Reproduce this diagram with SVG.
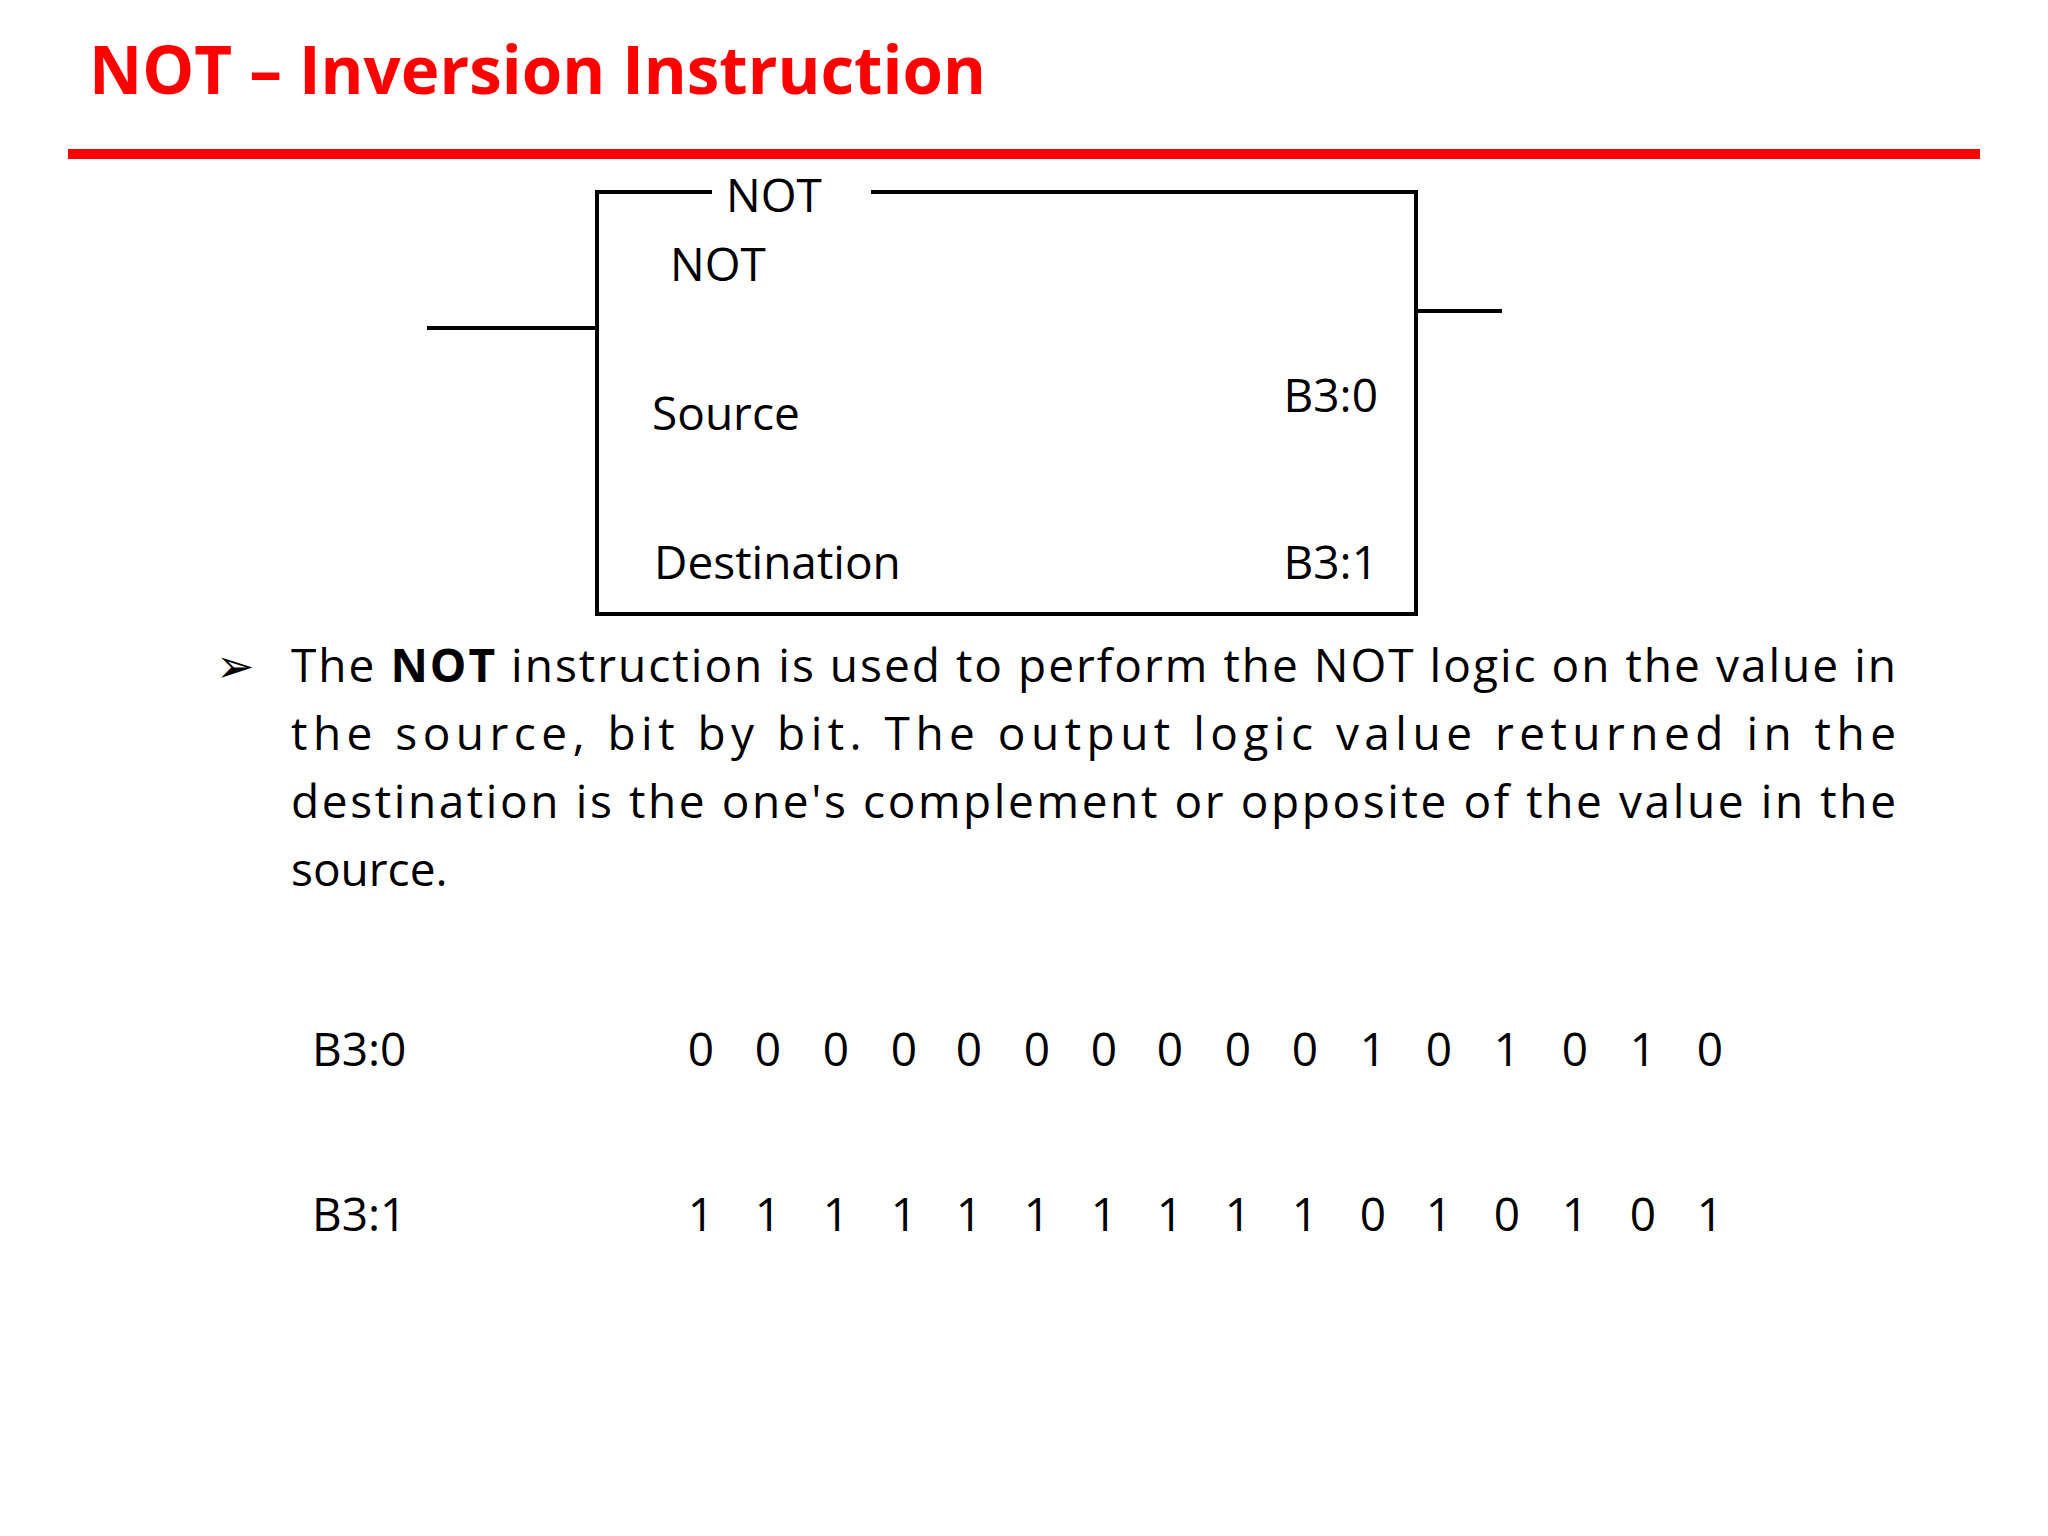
<svg xmlns="http://www.w3.org/2000/svg" width="2048" height="1536" viewBox="0 0 2048 1536">
<style>
text{font-family:"Open Sans","Noto Sans",sans-serif;fill:#000;font-size:46px}
.t{fill:#ff0000;font-weight:bold;font-size:66px}
.w{stroke:#000;stroke-width:4;fill:none}
.d{text-anchor:middle}
</style>
<rect width="2048" height="1536" fill="#fff"/>
<text class="t" x="89" y="94" textLength="897" lengthAdjust="spacingAndGlyphs">NOT – Inversion Instruction</text>
<rect x="68" y="149" width="1912" height="10" fill="#ff0000"/>
<g id="not-block">
<path class="w" d="M712 192H597V614H1416V192H871"/>
<text x="726" y="212">NOT</text>
<text x="670" y="281">NOT</text>
<text x="652" y="430">Source</text>
<text x="1378" y="412" text-anchor="end">B3:0</text>
<text x="654" y="579">Destination</text>
<text x="1378" y="579" text-anchor="end">B3:1</text>
</g>
<g id="connectors">
<line class="w" x1="427" y1="328" x2="597" y2="328"/>
<line class="w" x1="1416" y1="311" x2="1502" y2="311"/>
</g>
<g id="text">
<text x="216" y="682">➢</text>
<text x="291" y="682" textLength="1605" lengthAdjust="spacing">The <tspan font-weight="bold">NOT</tspan> instruction is used to perform the NOT logic on the value in</text>
<text x="291" y="750" textLength="1605" lengthAdjust="spacing">the source, bit by bit. The output logic value returned in the</text>
<text x="291" y="818" textLength="1605" lengthAdjust="spacing">destination is the one's complement or opposite of the value in the</text>
<text x="291" y="886">source.</text>
</g>
<g id="bits">
<text x="312" y="1066">B3:0</text>
<text x="312" y="1231">B3:1</text>
<g class="d">
<text class="d" y="1066"><tspan x="701">0</tspan><tspan x="768">0</tspan><tspan x="836">0</tspan><tspan x="904">0</tspan><tspan x="969">0</tspan><tspan x="1037">0</tspan><tspan x="1104">0</tspan><tspan x="1170">0</tspan><tspan x="1238">0</tspan><tspan x="1305">0</tspan><tspan x="1373">1</tspan><tspan x="1439">0</tspan><tspan x="1507">1</tspan><tspan x="1575">0</tspan><tspan x="1643">1</tspan><tspan x="1710">0</tspan></text>
<text class="d" y="1231"><tspan x="701">1</tspan><tspan x="768">1</tspan><tspan x="836">1</tspan><tspan x="904">1</tspan><tspan x="969">1</tspan><tspan x="1037">1</tspan><tspan x="1104">1</tspan><tspan x="1170">1</tspan><tspan x="1238">1</tspan><tspan x="1305">1</tspan><tspan x="1373">0</tspan><tspan x="1439">1</tspan><tspan x="1507">0</tspan><tspan x="1575">1</tspan><tspan x="1643">0</tspan><tspan x="1710">1</tspan></text>
</g>
</g>
</svg>
